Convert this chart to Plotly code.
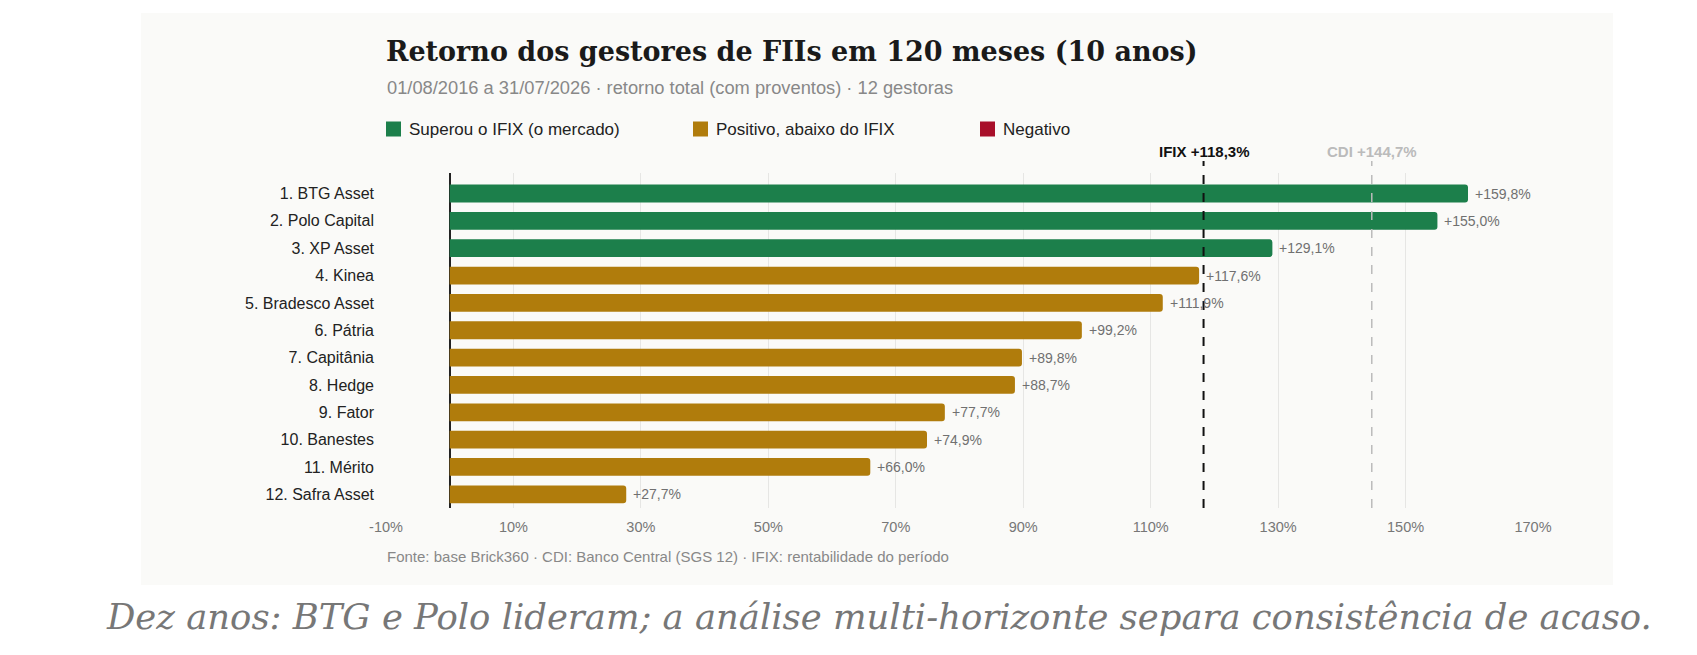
import plotly.graph_objects as go

# ---- data ----
managers = ["1. BTG Asset", "2. Polo Capital", "3. XP Asset", "4. Kinea",
            "5. Bradesco Asset", "6. Pátria", "7. Capitânia", "8. Hedge",
            "9. Fator", "10. Banestes", "11. Mérito", "12. Safra Asset"]
returns = [159.8, 155.0, 129.1, 117.6, 111.9, 99.2, 89.8, 88.7, 77.7, 74.9, 66.0, 27.7]
ifix_return = 118.3
cdi_return = 144.7
tick_values = [-10, 10, 30, 50, 70, 90, 110, 130, 150, 170]
tick_labels = ["-10%", "10%", "30%", "50%", "70%", "90%", "110%", "130%", "150%", "170%"]
legend_labels = ["Superou o IFIX (o mercado)", "Positivo, abaixo do IFIX", "Negativo"]

GREEN = "#1c7f4b"
GOLD = "#b07c0c"
RED = "#a80f2a"
SANS = "Liberation Sans, Arial, sans-serif"
SERIF = "DejaVu Serif, Georgia, serif"

OFF = 8  # page body margin offset
W, H = 1697, 655
L, T = 386 - OFF, 173 - OFF
R, B = W - (1533 - OFF), H - (508 - OFF)
PW, PH = W - L - R, H - T - B


def px(xp):
    return (xp - OFF - L) / PW


def py(yp):
    return (H - B - (yp - OFF)) / PH


def fmt(v):
    return ("+" if v >= 0 else "") + f"{v:.1f}".replace(".", ",") + "%"


colors = [GREEN if v > ifix_return else (GOLD if v >= 0 else RED) for v in returns]

fig = go.Figure()
fig.add_trace(go.Bar(
    x=returns, y=managers, orientation="h",
    marker=dict(color=colors, line=dict(width=0), cornerradius=3),
    showlegend=False, hoverinfo="skip",
))

shapes = []
annotations = []

# card background
shapes.append(dict(type="rect", xref="paper", yref="paper", layer="below",
                   x0=px(141), x1=px(1613), y0=py(585), y1=py(13),
                   fillcolor="#fafaf8", line=dict(width=0)))

# reference lines
shapes.append(dict(type="line", xref="x", yref="paper", x0=ifix_return, x1=ifix_return,
                   y0=0, y1=py(161), line=dict(color="#111111", width=2, dash="dash")))
shapes.append(dict(type="line", xref="x", yref="paper", x0=cdi_return, x1=cdi_return,
                   y0=0, y1=py(161), line=dict(color="#bbbbbb", width=1.5, dash="dash")))
annotations.append(dict(xref="x", yref="paper", x=ifix_return, y=py(151), showarrow=False,
                        text="<b>IFIX " + fmt(ifix_return) + "</b>", xanchor="center", yanchor="middle",
                        font=dict(family=SANS, size=15, color="#111111")))
annotations.append(dict(xref="x", yref="paper", x=cdi_return, y=py(151), showarrow=False,
                        text="<b>CDI " + fmt(cdi_return) + "</b>", xanchor="center", yanchor="middle",
                        font=dict(family=SANS, size=15, color="#bbbbbb")))

# value labels
for m, v in zip(managers, returns):
    annotations.append(dict(xref="x", yref="y", x=v, y=m, showarrow=False, text=fmt(v),
                            xanchor="left", yanchor="middle", xshift=5,
                            font=dict(family=SANS, size=14, color="#707070")))

# title, subtitle
annotations.append(dict(xref="paper", yref="paper", x=px(384), y=py(51), showarrow=False,
                        xanchor="left", yanchor="middle",
                        text="<b>Retorno dos gestores de FIIs em 120 meses (10 anos)</b>",
                        font=dict(family=SERIF, size=27, color="#1a1a1a")))
annotations.append(dict(xref="paper", yref="paper", x=px(385), y=py(87.5), showarrow=False,
                        xanchor="left", yanchor="middle",
                        text="01/08/2016 a 31/07/2026 · retorno total (com proventos) · 12 gestoras",
                        font=dict(family=SANS, size=18.3, color="#888888")))

# legend (manual)
leg_x = [386, 693, 980]
for lx, lab, c in zip(leg_x, legend_labels, [GREEN, GOLD, RED]):
    shapes.append(dict(type="rect", xref="paper", yref="paper",
                       x0=px(lx), x1=px(lx + 15), y0=py(136.5), y1=py(121.5),
                       fillcolor=c, line=dict(width=0)))
    annotations.append(dict(xref="paper", yref="paper", x=px(lx + 21), y=py(129), showarrow=False,
                            xanchor="left", yanchor="middle", text=lab,
                            font=dict(family=SANS, size=17, color="#222222")))

# footer
annotations.append(dict(xref="paper", yref="paper", x=px(385), y=py(556), showarrow=False,
                        xanchor="left", yanchor="middle",
                        text="Fonte: base Brick360 · CDI: Banco Central (SGS 12) · IFIX: rentabilidade do período",
                        font=dict(family=SANS, size=15, color="#888888")))

# caption below card
annotations.append(dict(xref="paper", yref="paper", x=px(104), y=py(616), showarrow=False,
                        xanchor="left", yanchor="middle",
                        text="<i>Dez anos: BTG e Polo lideram; a análise multi-horizonte separa consistência de acaso.</i>",
                        font=dict(family=SERIF, size=35.4, color="#777777")))

fig.update_layout(
    width=W, height=H, autosize=False,
    margin=dict(l=L, r=R, t=T, b=B, pad=0),
    paper_bgcolor="#ffffff", plot_bgcolor="rgba(0,0,0,0)",
    bargap=0.35,
    shapes=shapes, annotations=annotations,
    xaxis=dict(range=[-10, 170], tickvals=tick_values, ticktext=tick_labels,
               showgrid=True, gridcolor="#e6e6e4", gridwidth=1,
               zeroline=True, zerolinecolor="#222222", zerolinewidth=1.5,
               showline=False, ticks="", ticklabelstandoff=8,
               tickfont=dict(family=SANS, size=14.5, color="#777777")),
    yaxis=dict(range=[11.5, -0.75], showgrid=False, zeroline=False, showline=False,
               ticks="", ticklabelstandoff=11,
               tickfont=dict(family=SANS, size=16, color="#222222")),
    font=dict(family=SANS),
)

fig.write_html("out.html")
